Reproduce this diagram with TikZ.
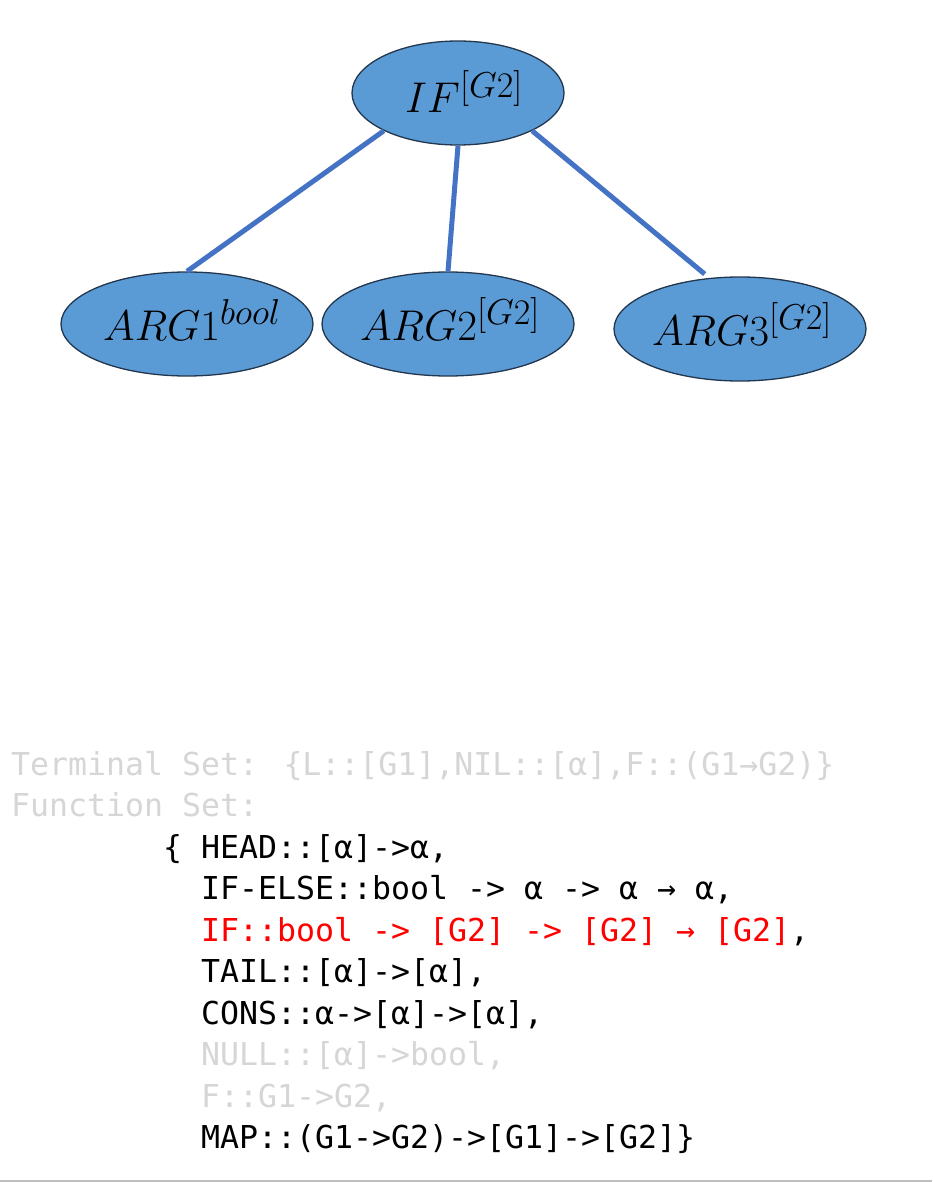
\RequirePackage{fix-cm}
\documentclass[tikz,border=0pt]{standalone}
\usepackage{fontspec}
\usetikzlibrary{shapes.geometric}
\newfontfamily\codefont{DejaVu Sans Mono}
\definecolor{nodefill}{HTML}{5B9BD5}
\definecolor{nodeedge}{HTML}{22364D}
\definecolor{linkblue}{HTML}{4472C4}
\definecolor{fadedtext}{RGB}{214,214,214}
\definecolor{rulegray}{RGB}{190,190,190}
% typed symbol: large italic name with a large type superscript
\newcommand{\typed}[2]{$#1^{\mbox{\fontsize{36}{40}\selectfont$#2$}}$}

\begin{document}
\begin{tikzpicture}[x=1pt,y=-1pt,
  typenode/.style={ellipse, draw=nodeedge, line width=1.3pt, fill=nodefill,
    inner sep=0pt, minimum width=252pt, minimum height=104pt},
  typetext/.style={anchor=base, inner sep=0pt, font=\fontsize{43}{50}\selectfont},
  link/.style={draw=linkblue, line width=5pt},
  codeline/.style={anchor=base west, inner sep=0pt,
    font=\codefont\fontsize{31.56}{41.5}\selectfont},
]
\fill[white] (0,0) rectangle (932,1182);
\useasboundingbox (0,0) rectangle (932,1182);

% type-annotated tree for IF
\node[typenode, minimum width=212pt] (if) at (458,93) {};
\node[typenode] (arg1) at (187,324) {};
\node[typenode] (arg2) at (448,324) {};
\node[typenode] (arg3) at (740,329) {};

\node[typetext] (iftext) at (464,113) {\typed{IF}{[G2]}};
\node[typetext] (arg1text) at (192,340) {\typed{ARG1}{bool}};
\node[typetext] (arg2text) at (450,340) {\typed{ARG2}{[G2]}};
\node[typetext] (arg3text) at (742,345) {\typed{ARG3}{[G2]}};

\draw[link] (if.207) -- (arg1.north);
\draw[link] (if.south) -- (arg2.north);
\draw[link, shorten >=6pt] (if.333) -- (arg3.121);

% terminal and function sets
\node[codeline, text=fadedtext] (term) at (11,775) {Terminal Set: \{L::[G1],NIL::[α],F::(G1→G2)\}};
\node[codeline, text=fadedtext] (func) at (11,816.5) {Function Set:};
\node[codeline] (head) at (163,858) {\{ HEAD::[α]->α,};
\node[codeline] (ifelse) at (201,899.5) {IF-ELSE::bool -> α -> α → α,};
\node[codeline] (ifline) at (201,941) {\textcolor{red}{IF::bool -> [G2] -> [G2] → [G2]},};
\node[codeline] (tail) at (201,982.5) {TAIL::[α]->[α],};
\node[codeline] (cons) at (201,1024) {CONS::α->[α]->[α],};
\node[codeline, text=fadedtext] (null) at (201,1065.5) {NULL::[α]->bool,};
\node[codeline, text=fadedtext] (fmap) at (201,1107) {F::G1->G2,};
\node[codeline] (map) at (201,1148.5) {MAP::(G1->G2)->[G1]->[G2]\}};

% bottom rule
\draw[rulegray, line width=1.5pt] (0,1181) -- (932,1181);
\end{tikzpicture}
\end{document}
